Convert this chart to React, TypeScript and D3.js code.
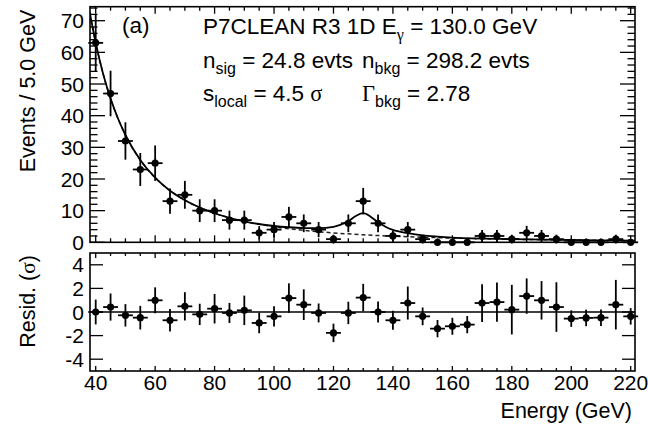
import React from "react";
import * as d3 from "d3";

// ---- data ----
const energies = [40,45,50,55,60,65,70,75,80,85,90,95,100,105,110,115,120,125,130,135,140,145,150,155,160,165,170,175,180,185,190,195,200,205,210,215,220];
const counts = [63,47,32,23,25,13,15,10,10,7,7,3,4,8,6,4,1,6,13,6,2,4,1,0,0,0,2,2,1,3,2,1,0,0,0,1,0];
const countErr = [9,7.2,5.9,5.2,5.6,4,4.4,3.6,3.6,3,3,2.1,2.4,3.2,2.8,2.4,1.4,2.8,4.2,2.8,1.8,2.4,1.4,0,0,0,1.9,1.9,1.4,2.2,1.9,1.4,0,0,0,1.4,0];
const resid = [0,0.42,-0.28,-0.48,0.99,-0.7,0.48,-0.2,0.28,-0.08,0.14,-0.93,-0.37,1.18,0.62,-0.08,-1.77,-0.08,1.22,0,-0.7,0.76,-0.37,-1.41,-1.21,-1.07,0.76,0.84,0.2,1.35,0.99,0.42,-0.56,-0.5,-0.48,0.62,-0.37];
const residErr = [1.05,1.15,0.95,1.0,1.1,0.95,1.2,0.9,1.25,0.85,1.25,0.87,0.85,1.25,1.3,0.8,0.78,0.95,1.17,0.9,0.8,1.4,0.75,0.73,0.72,0.73,1.6,1.66,2.1,1.5,1.63,2.1,0.7,0.7,0.7,2.1,0.7];

const bgE = [38,40,42.5,45,47.5,50,55,60,65,70,75,80,90,100,110,120,130,140,150,160,180,200,221.35];
const bgV = [72.6,63,53.2,45.4,39.1,33.9,26.0,20.4,16.3,13.3,11.0,9.17,6.61,4.93,3.78,2.97,2.37,1.93,1.60,1.34,0.96,0.72,0.54];
const totE = [38,40,42.5,45,47.5,50,55,60,65,70,75,80,90,100,105,110,115,120,122.5,125,127.5,130,132.5,135,137.5,140,145,150,155,160,180,200,221.35];
const totV = [72.6,63,53.2,45.4,39.1,33.9,26.0,20.4,16.3,13.3,11.0,9.17,6.61,5.15,4.75,4.5,4.45,4.9,5.6,6.7,8.3,9.2,8.1,6.3,4.9,3.9,2.9,2.2,1.8,1.5,0.98,0.72,0.54];

const xMajor = [40,60,80,100,120,140,160,180,200,220];
const yTopMajor = [0,10,20,30,40,50,60,70];
const yResMajor = [-4,-2,0,2,4];

const FONT = "'Liberation Sans', Arial, Helvetica, sans-serif";
const SERIF = "'Liberation Serif', 'DejaVu Serif', serif";

export default function App() {
  const L = 90, R = 635;
  const T1 = 6.7, B1 = 242.3;
  const T2 = 253, B2 = 371;

  const x = d3.scaleLinear().domain([40, 220]).range([95.7, 630.7]);
  const yT = d3.scaleLinear().domain([0, 70]).range([B1, 20.7]);
  const yR = d3.scaleLinear().domain([-5, 5]).range([B2, T2]);
  const yTopMax = yT.invert(T1);

  const xMinor = d3.range(40, 221, 5);
  const yTopMinor = d3.range(0, yTopMax, 2);

  const line = (xs: number[], vs: number[]) =>
    d3.line<number>().x((_, i) => x(xs[i])).y((v) => yT(v)).curve(d3.curveMonotoneX)(vs) || "";

  const fs = 21;
  const afs = 22.5;
  const subFs = 16;
  const sd = 6;

  const sub = (base: string, s: string, rest: string, xx: number, yy: number, baseFont?: string) => (
    <text x={xx} y={yy} fontSize={afs} style={{ whiteSpace: "pre" }}>
      <tspan fontFamily={baseFont || FONT}>{base}</tspan>
      <tspan fontSize={subFs} dy={sd}>{s}</tspan>
      <tspan dy={-sd}>{rest}</tspan>
    </text>
  );

  return (
    <svg width={648} height={429} style={{ position: "absolute", left: 0, top: 0, background: "#fff" }} fontFamily={FONT}>
      <defs>
        <clipPath id="clipTop"><rect x={L} y={T1} width={R - L} height={B1 - T1} /></clipPath>
      </defs>
      <rect x={0} y={0} width={648} height={429} fill="#fff" />

      {/* Top panel curves */}
      <g clipPath="url(#clipTop)">
        <path d={line(bgE, bgV)} fill="none" stroke="#222" strokeWidth={1.5} strokeDasharray="4,3" />
        <path d={line(totE, totV)} fill="none" stroke="#000" strokeWidth={1.8} />
      </g>

      {/* Top panel data */}
      <g stroke="#000" strokeWidth={1.8}>
        {energies.map((e, i) => (
          <g key={i}>
            <line x1={x(e - 2.5)} x2={x(e + 2.5)} y1={yT(counts[i])} y2={yT(counts[i])} />
            {countErr[i] > 0 && (
              <line x1={x(e)} x2={x(e)} y1={yT(counts[i] - countErr[i])} y2={yT(Math.min(counts[i] + countErr[i], yTopMax))} />
            )}
            <circle cx={x(e)} cy={yT(counts[i])} r={3.6} fill="#000" stroke="none" />
          </g>
        ))}
      </g>

      {/* Residual panel */}
      <line x1={L} x2={R} y1={yR(0)} y2={yR(0)} stroke="#000" strokeWidth={1.3} />
      <g stroke="#000" strokeWidth={1.8}>
        {energies.map((e, i) => (
          <g key={i}>
            <line x1={x(e - 2.5)} x2={x(e + 2.5)} y1={yR(resid[i])} y2={yR(resid[i])} />
            <line x1={x(e)} x2={x(e)} y1={yR(resid[i] - residErr[i])} y2={yR(resid[i] + residErr[i])} />
            <circle cx={x(e)} cy={yR(resid[i])} r={3.6} fill="#000" stroke="none" />
          </g>
        ))}
      </g>

      {/* Frames */}
      <rect x={L} y={T1} width={R - L} height={B1 - T1} fill="none" stroke="#000" strokeWidth={1.6} />
      <rect x={L} y={T2} width={R - L} height={B2 - T2} fill="none" stroke="#000" strokeWidth={1.6} />

      {/* Ticks */}
      <g stroke="#000" strokeWidth={1.3}>
        {xMinor.map((v) => {
          const len = v % 20 === 0 ? 7 : 4;
          return (
            <g key={"xt" + v}>
              <line x1={x(v)} x2={x(v)} y1={B1} y2={B1 - len} />
              <line x1={x(v)} x2={x(v)} y1={T1} y2={T1 + len} />
              <line x1={x(v)} x2={x(v)} y1={B2} y2={B2 - (v % 20 === 0 ? 5 : 3)} />
              <line x1={x(v)} x2={x(v)} y1={T2} y2={T2 + (v % 20 === 0 ? 5 : 3)} />
            </g>
          );
        })}
        {yTopMinor.map((v) => {
          const len = v % 10 === 0 ? 15 : 7.5;
          return (
            <g key={"yt" + v}>
              <line x1={L} x2={L + len} y1={yT(v)} y2={yT(v)} />
              <line x1={R} x2={R - len} y1={yT(v)} y2={yT(v)} />
            </g>
          );
        })}
        {yResMajor.map((v) => (
          <g key={"yr" + v}>
            <line x1={L} x2={L + 13} y1={yR(v)} y2={yR(v)} />
            <line x1={R} x2={R - 13} y1={yR(v)} y2={yR(v)} />
          </g>
        ))}
      </g>

      {/* Tick labels */}
      <g fontSize={fs} fill="#000">
        {yTopMajor.map((v) => (
          <text key={"ytl" + v} x={84} y={yT(v)} dy="0.36em" textAnchor="end">{v}</text>
        ))}
        {yResMajor.map((v) => (
          <text key={"yrl" + v} x={84} y={yR(v)} dy="0.36em" textAnchor="end">{v}</text>
        ))}
        {xMajor.map((v) => (
          <text key={"xl" + v} x={x(v)} y={390} textAnchor="middle">{v}</text>
        ))}
      </g>

      {/* Axis titles */}
      <text transform={`translate(35,${T1 + 3}) rotate(-90)`} textAnchor="end" fontSize={21.5}>Events / 5.0 GeV</text>
      <text transform={`translate(35,${T2 + 2}) rotate(-90)`} textAnchor="end" fontSize={21.5} style={{ whiteSpace: "pre" }}>
        <tspan>Resid. (</tspan><tspan fontFamily={SERIF}>σ</tspan><tspan>)</tspan>
      </text>
      <text x={632} y={418} textAnchor="end" fontSize={21.5}>Energy (GeV)</text>

      {/* Annotations */}
      <text x={122} y={33} fontSize={afs}>(a)</text>
      <text x={203} y={34} fontSize={afs} style={{ whiteSpace: "pre" }}>
        <tspan>P7CLEAN R3 1D E</tspan>
        <tspan fontSize={subFs} dy={sd} fontFamily={SERIF}>γ</tspan>
        <tspan dy={-sd}> = 130.0 GeV</tspan>
      </text>
      {sub("n", "sig", " = 24.8 evts", 203, 68)}
      {sub("n", "bkg", " = 298.2 evts", 362, 68)}
      <text x={203} y={101} fontSize={afs} style={{ whiteSpace: "pre" }}>
        <tspan>s</tspan>
        <tspan fontSize={subFs} dy={sd}>local</tspan>
        <tspan dy={-sd}> = 4.5 </tspan>
        <tspan fontFamily={SERIF}>σ</tspan>
      </text>
      {sub("Γ", "bkg", " = 2.78", 362, 101, SERIF)}
    </svg>
  );
}
